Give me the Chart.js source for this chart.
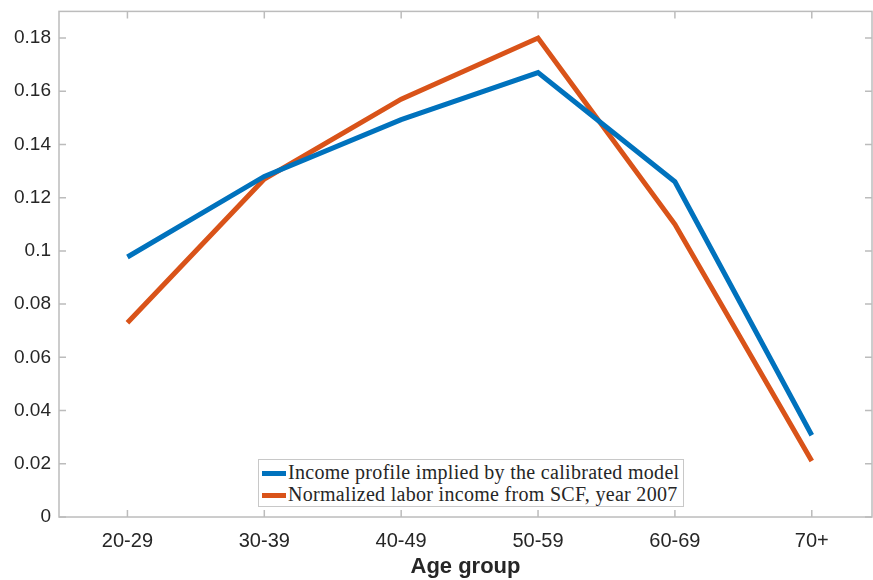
<!DOCTYPE html>
<html>
<head>
<meta charset="utf-8">
<script src="https://cdn.jsdelivr.net/npm/chart.js@4.4.0/dist/chart.umd.min.js"></script>
<style>
  html, body { margin: 0; padding: 0; background: #fff; }
  #wrap { position: relative; width: 873px; height: 580px; }
  #legend {
    position: absolute; left: 258px; top: 459px;
    border: 1px solid #c8c8c8; background: #fff;
    padding: 1px 4px 1px 3px;
    font-family: "Liberation Serif", "DejaVu Serif", serif; font-size: 20px; color: #262626;
    letter-spacing: 0.3px; line-height: 22px;
  }
  #legend .sw { display: inline-block; width: 24px; height: 5px; vertical-align: middle; margin-right: 2px; position: relative; top: -1px; }
</style>
</head>
<body>
<div id="wrap">
  <canvas id="chart" width="873" height="580"></canvas>
  <div id="legend"></div>
</div>
<script>
// age groups on the x axis
const ageGroups = ["20-29", "30-39", "40-49", "50-59", "60-69", "70+"];
// income profile from the model
const modelIncome = [0.0977, 0.128, 0.1493, 0.167, 0.126, 0.0307];
// SCF labor income, 2007
const scfIncome = [0.073, 0.127, 0.157, 0.180, 0.110, 0.021];
const yTicks = [0, 0.02, 0.04, 0.06, 0.08, 0.1, 0.12, 0.14, 0.16, 0.18];

const seriesNames = [
  "Income profile implied by the calibrated model",
  "Normalized labor income from SCF, year 2007"
];
const colors = ["#0072BD", "#D95319"];

const toPoints = (vals) => vals.map((v, i) => ({ x: i + 1, y: v }));

// box around the plot + inward ticks like MATLAB
const boxPlugin = {
  id: "box",
  afterDatasetsDraw(chart) {
    const { ctx, chartArea: a, scales } = chart;
    ctx.save();
    ctx.strokeStyle = "#bcbcbc";
    ctx.lineWidth = 1.5;
    ctx.strokeRect(a.left, a.top, a.right - a.left, a.bottom - a.top);
    ctx.beginPath();
    ageGroups.forEach((g, i) => {
      const x = scales.x.getPixelForValue(i + 1);
      ctx.moveTo(x, a.bottom); ctx.lineTo(x, a.bottom - 7);
      ctx.moveTo(x, a.top); ctx.lineTo(x, a.top + 7);
    });
    yTicks.forEach((t) => {
      const y = scales.y.getPixelForValue(t);
      ctx.moveTo(a.left, y); ctx.lineTo(a.left + 7, y);
      ctx.moveTo(a.right, y); ctx.lineTo(a.right - 7, y);
    });
    ctx.stroke();
    ctx.restore();
  }
};

new Chart(document.getElementById("chart"), {
  type: "line",
  data: {
    datasets: [
      { label: seriesNames[0], data: toPoints(modelIncome), borderColor: colors[0], borderWidth: 5, pointRadius: 0, tension: 0 },
      { label: seriesNames[1], data: toPoints(scfIncome), borderColor: colors[1], borderWidth: 5, pointRadius: 0, tension: 0 }
    ]
  },
  options: {
    responsive: false,
    animation: false,
    layout: { padding: { top: 10, right: 1, left: 0, bottom: 0 } },
    plugins: { legend: { display: false }, tooltip: { enabled: false } },
    scales: {
      x: {
        type: "linear",
        min: 0.5,
        max: 6.44,
        afterBuildTicks: (s) => { s.ticks = ageGroups.map((g, i) => ({ value: i + 1 })); },
        afterFit: (s) => { s.height = 63; },
        grid: { display: false },
        border: { display: false },
        ticks: {
          callback: (v) => ageGroups[v - 1] || "",
          font: { family: "Liberation Sans, Arial, sans-serif", size: 20 },
          color: "#262626",
          padding: 4,
          maxRotation: 0
        },
        title: {
          display: true,
          text: "Age group",
          font: { family: "Liberation Sans, Arial, sans-serif", size: 22, weight: "bold" },
          color: "#262626",
          padding: { top: 0, bottom: 0 }
        }
      },
      y: {
        min: 0,
        max: 0.19,
        afterBuildTicks: (s) => { s.ticks = yTicks.map((v) => ({ value: v })); },
        afterFit: (s) => { s.width = 59; },
        grid: { display: false },
        border: { display: false },
        ticks: {
          callback: (v) => String(+v.toFixed(2)),
          font: { family: "Liberation Sans, Arial, sans-serif", size: 19 },
          color: "#262626",
          padding: 0
        }
      }
    }
  },
  plugins: [boxPlugin]
});

document.getElementById("legend").innerHTML = seriesNames
  .map((n, i) => `<div><span class="sw" style="background:${colors[i]}"></span>${n}</div>`)
  .join("");
</script>
</body>
</html>
